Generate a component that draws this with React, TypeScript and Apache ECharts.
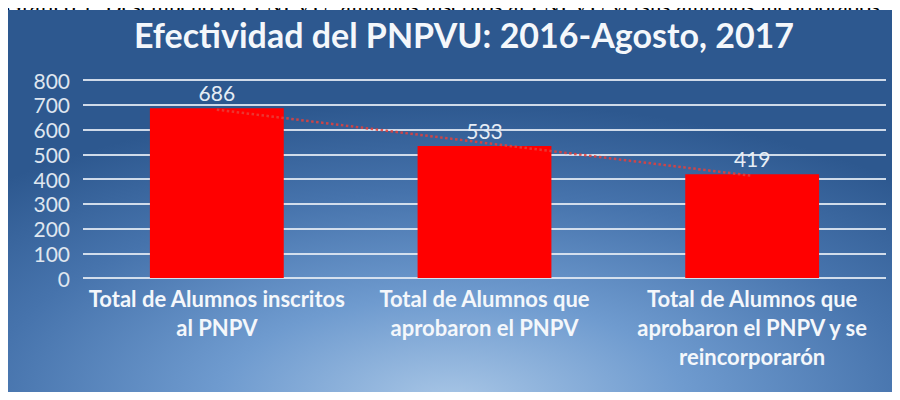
import React, { useEffect, useRef } from "react";
import * as echarts from "echarts";

const categories = [
  "Total de Alumnos inscritos\nal PNPV",
  "Total de Alumnos que\naprobaron el PNPV",
  "Total de Alumnos que\naprobaron el PNPV y se\nreincorporarón",
];
const alumnos = [686, 533, 419];
const tendencia = [680, 546, 413];
const yTicks = { min: 0, max: 800, interval: 100 };
const titleText = "Efectividad del PNPVU: 2016-Agosto, 2017";
const captionText =
  "Gráfico 1: Desempeño del PNPVU; alumnos inscritos al PNPVU versus alumnos incorporados";

export default function App() {
  const ref = useRef<HTMLDivElement>(null);
  useEffect(() => {
    if (!ref.current) return;
    const chart = echarts.init(ref.current, null, { renderer: "svg" });
    const font = "Lato, 'Open Sans', sans-serif";
    chart.setOption({
      animation: false,
      backgroundColor: "#ffffff",
      title: {
        text: titleText,
        left: 459,
        textAlign: "center",
        top: 12,
        textStyle: {
          color: "#f4f7fb",
          fontSize: 34,
          fontWeight: "bold",
          fontFamily: font,
        },
      },
      graphic: [
        {
          type: "text",
          z: -20,
          silent: true,
          x: 880,
          y: 18,
          style: {
            text: captionText,
            fill: "#000000",
            font: "23px 'Liberation Serif', 'Times New Roman', serif",
            textAlign: "right",
            textVerticalAlign: "bottom",
          },
        },
        {
          type: "rect",
          z: -10,
          silent: true,
          shape: { x: 8, y: 10, width: 887, height: 400 },
          style: {
            fill: {
              type: "radial",
              x: 0.5,
              y: 0.98,
              r: 0.75,
              colorStops: [
                { offset: 0, color: "#a8c6e6" },
                { offset: 0.35, color: "#6f9bcf" },
                { offset: 0.7, color: "#4673ac" },
                { offset: 1, color: "#2d588f" },
              ],
            },
          },
        },
      ],
      grid: { left: 83, right: 14, top: 80, bottom: 122, containLabel: false },
      xAxis: {
        type: "category",
        data: categories,
        axisLine: { show: false },
        axisTick: { show: false },
        axisLabel: {
          color: "#f4f7fb",
          fontSize: 22,
          fontWeight: "bold",
          fontFamily: font,
          lineHeight: 29,
          margin: 6,
          interval: 0,
          align: "center",
        },
      },
      yAxis: {
        type: "value",
        min: yTicks.min,
        max: yTicks.max,
        interval: yTicks.interval,
        axisLine: { show: false },
        axisTick: { show: false },
        axisLabel: {
          color: "#dfe6ef",
          fontSize: 21,
          fontFamily: font,
          margin: 13,
        },
        splitLine: {
          lineStyle: { color: "rgba(225,233,243,0.9)", width: 2 },
        },
      },
      series: [
        {
          type: "bar",
          data: alumnos,
          barWidth: "50%",
          itemStyle: { color: "#ff0000" },
          label: {
            show: true,
            position: "top",
            distance: 5,
            color: "#e6edf5",
            fontSize: 21,
            fontFamily: font,
          },
          z: 2,
        },
        {
          type: "line",
          data: tendencia,
          symbol: "none",
          lineStyle: { color: "#e8403a", width: 2.5, type: "dotted", opacity: 0.85 },
          z: 3,
          silent: true,
        },
      ],
    });
    return () => chart.dispose();
  }, []);
  return <div ref={ref} style={{ width: 900, height: 400, margin: -8 }} />;
}
